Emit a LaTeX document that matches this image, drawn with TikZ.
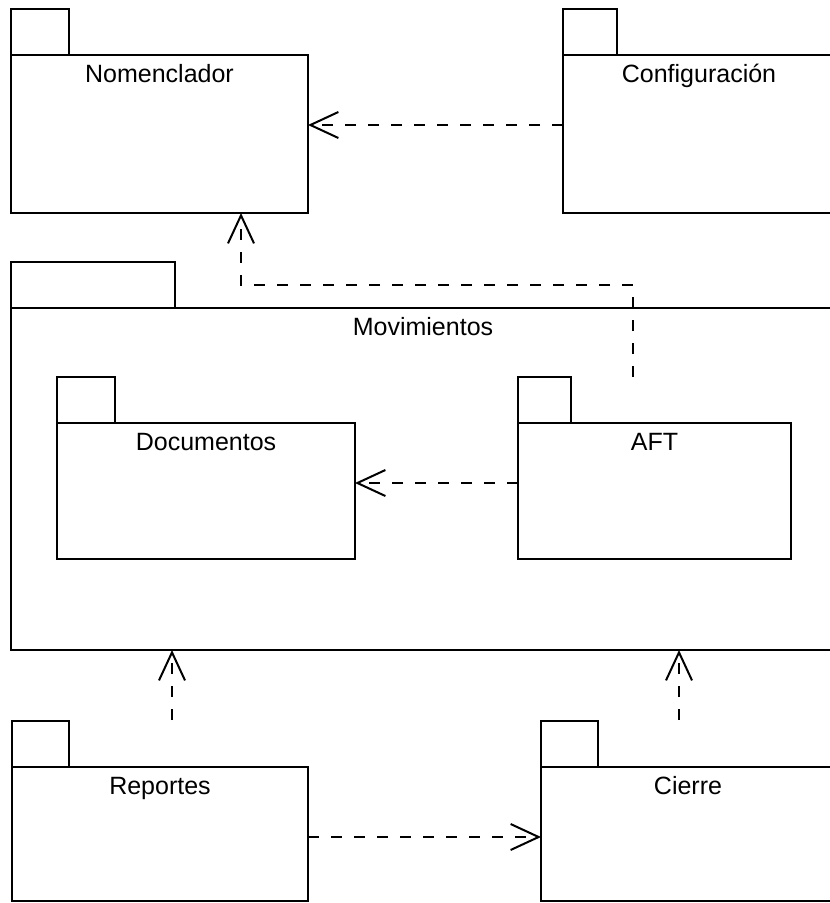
\documentclass[tikz,border=0pt]{standalone}
\usepackage{fontspec}
\setmainfont{Liberation Sans}
\usetikzlibrary{arrows.meta}
\newcommand\pkgdraw[7]{%
  \node[pkgbody, minimum width=#4bp, minimum height=#5bp] (#1) at (#2,#3) {};
  \draw (#1.north west) rectangle ++(#6,-46);
  \node[pkglabel] (#1L) at ([yshift=-27bp]#1.north) {#7};
}
\begin{document}
\begin{tikzpicture}[x=1bp,y=-1bp, line width=2bp,
  pkgbody/.style={draw, anchor=north west, inner sep=0pt, outer sep=0pt},
  pkglabel/.style={anchor=base, inner sep=0pt, font=\fontsize{25bp}{30bp}\selectfont},
  dep/.style={dash pattern=on 11bp off 12bp, line width=2bp,
    -{Straight Barb[length=28bp,width=26bp,line width=2bp]}}]
\useasboundingbox (0,0) rectangle (830,903);
\clip (0,0) rectangle (830,903);
\fill[white] (0,0) rectangle (830,903);
\pkgdraw{nom}{11}{55}{297}{158}{58}{Nomenclador}
\pkgdraw{conf}{563}{55}{272}{158}{54}{Configuración}
\pkgdraw{mov}{11}{308}{824}{342}{164}{Movimientos}
\pkgdraw{doc}{57}{423}{298}{136}{58}{Documentos}
\pkgdraw{aft}{518}{423}{273}{136}{53}{AFT}
\pkgdraw{rep}{12}{767}{296}{134}{57}{Reportes}
\pkgdraw{cie}{541}{767}{294}{134}{57}{Cierre}
\draw[dep] (conf.west |- 0,125) -- (nom.east |- 0,125);
\coordinate (aftdep) at (633,377);
\draw[dep] (aftdep) |- (241,285) -- (nom.south -| 241,0);
\draw[dep] (aft.west |- 0,483) -- (doc.east |- 0,483);
\coordinate (repdep) at (172,720);
\draw[dep] (repdep) -- (mov.south -| repdep);
\coordinate (ciedep) at (679,720);
\draw[dep] (ciedep) -- (mov.south -| ciedep);
\draw[dep] (rep.east |- 0,837) -- (cie.west |- 0,837);
\end{tikzpicture}
\end{document}
